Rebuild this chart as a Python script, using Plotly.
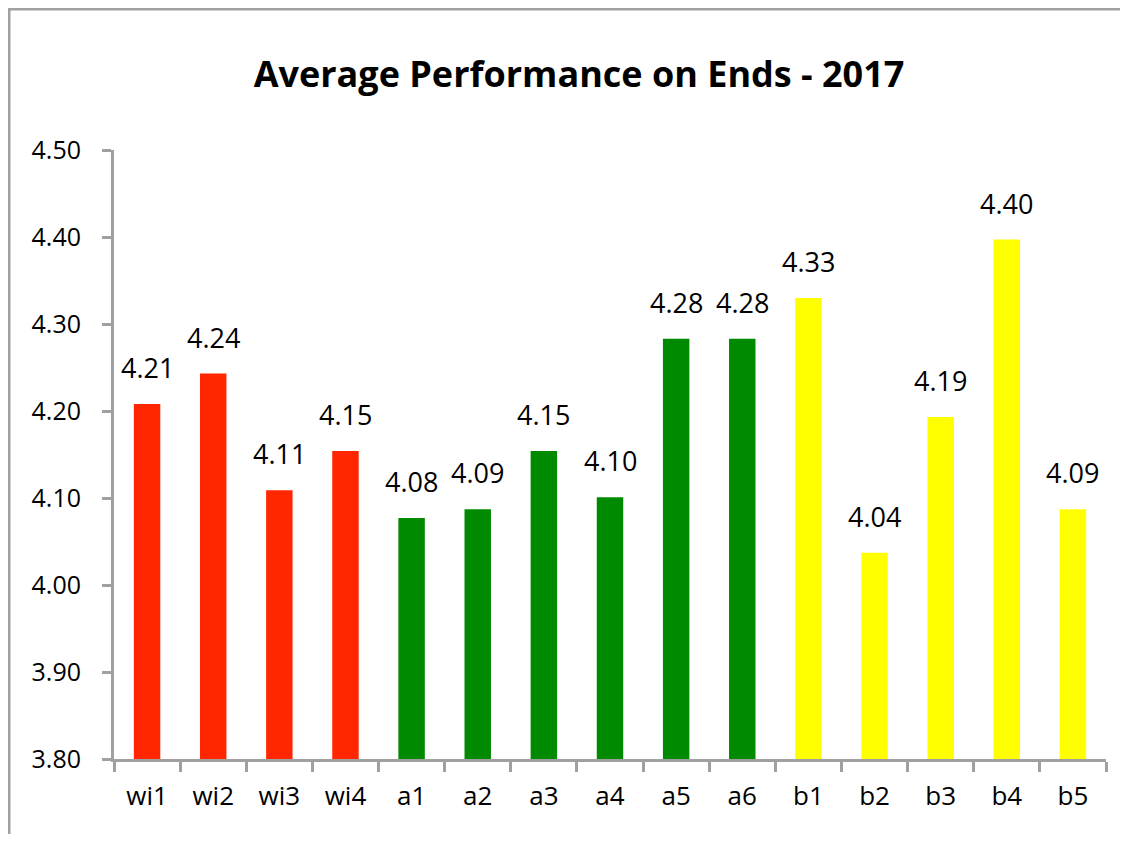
import plotly.graph_objects as go

categories = ["wi1", "wi2", "wi3", "wi4", "a1", "a2", "a3", "a4", "a5", "a6",
              "b1", "b2", "b3", "b4", "b5"]
values = [4.208, 4.243, 4.109, 4.154, 4.077, 4.087, 4.154, 4.101, 4.283, 4.283,
          4.330, 4.037, 4.193, 4.397, 4.087]
groups = ["wi"] * 4 + ["a"] * 6 + ["b"] * 5
group_colors = {"wi": "#FF2600", "a": "#008A00", "b": "#FFFF00"}
y_ticks = [3.80, 3.90, 4.00, 4.10, 4.20, 4.30, 4.40, 4.50]

FONT = "Open Sans"
W, H = 1112, 826
L, R, T, B = 106, 14, 142, 75
PW, PH = W - L - R, H - T - B

fig = go.Figure()
fig.add_trace(go.Bar(
    x=categories,
    y=[v - 3.80 for v in values],
    base=3.80,
    marker=dict(color=[group_colors[g] for g in groups], line=dict(width=0)),
    width=0.4,
    hoverinfo="skip",
))

for c, v in zip(categories, values):
    fig.add_annotation(
        x=c, y=v, xref="x", yref="y",
        text=f"{v:.2f}", showarrow=False,
        yanchor="bottom", xanchor="center", yshift=16,
        font=dict(family=FONT, size=27, color="#000000"),
    )

fig.update_layout(
    width=W, height=H,
    margin=dict(l=L, r=R, t=T, b=B),
    paper_bgcolor="white", plot_bgcolor="white",
    showlegend=False,
    title=dict(
        text="<b>Average Performance on Ends - 2017</b>",
        font=dict(family=FONT, size=36, color="#000000"),
        x=571 / W, xanchor="center", xref="container",
        y=1 - 66 / H, yanchor="middle", yref="container",
    ),
    xaxis=dict(
        type="category",
        showline=True, linecolor="#A0A0A0", linewidth=3,
        ticks="outside", ticklen=10, tickwidth=3, tickcolor="#A0A0A0",
        tickson="boundaries",
        ticklabelstandoff=12,
        tickfont=dict(family=FONT, size=26, color="#000000"),
        showgrid=False, zeroline=False,
    ),
    yaxis=dict(
        range=[3.80, 4.50],
        tickvals=y_ticks,
        ticktext=[f"{t:.2f}" for t in y_ticks],
        showline=True, linecolor="#A0A0A0", linewidth=3,
        ticks="outside", ticklen=9, tickwidth=3, tickcolor="#A0A0A0",
        ticklabelstandoff=16,
        tickfont=dict(family=FONT, size=25, color="#000000"),
        showgrid=False, zeroline=False,
    ),
    shapes=[dict(
        type="rect", xref="paper", yref="paper",
        x0=(1 - L) / PW, x1=1.5, y0=-0.5, y1=1 + (T - 1) / PH,
        line=dict(color="#A0A0A0", width=3), fillcolor="rgba(0,0,0,0)",
        layer="below",
    )],
)

fig.write_html("out.html")
